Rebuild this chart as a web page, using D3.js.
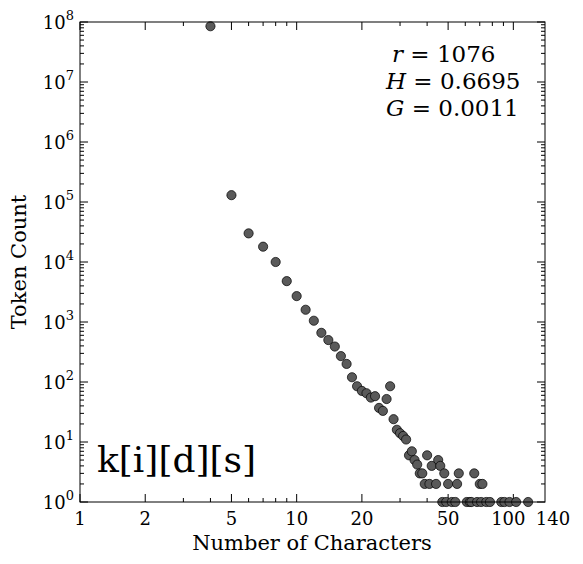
<!DOCTYPE html><html><head><meta charset="utf-8"><script src="https://cdn.jsdelivr.net/npm/d3@7"></script>
<style>body{margin:0;background:#fff}text{font-family:"DejaVu Serif",serif}</style></head><body><svg id="c" width="583" height="564"></svg><script>
const lengths=[4,5,6,7,8,9,10,11,12,13,14,15,16,17,18,19,20,21,22,23,24,25,26,27,28,29,30,31,32,33,34,35,36,37,38,39,40,41,42,44,45,46,47,48,49,50,52,54,55,56,61,63,64,66,68,70,71,72,75,78,88,91,96,103,117];
const counts=[8.5e7,1.3e5,3e4,1.8e4,1e4,4.8e3,2.7e3,1.6e3,1.05e3,660,500,390,270,200,120,85,71,65,55,58,37,33,52,85,24,16,14,12.6,11,6,7,5,4.2,3,3,2,6,2,4,2,5,4,1,3,1,2,1,1,2,3,1,1,1,3,1,2,1,2,1,1,1,1,1,1,1];
const xTicks=[1,2,5,10,20,50,100,140];
const yExps=[0,1,2,3,4,5,6,7,8];
const svg=d3.select("#c");
const L=80,R=545,T=22,B=502;
const x=d3.scaleLog().domain([1,140]).range([L,R]);
const y=d3.scaleLog().domain([1,1e8]).range([B,T]);
const g=svg.append("g");
const xm=[];for(let d=1;d<=100;d*=10)for(let k=1;k<10;k++){const v=k*d;if(v<=140)xm.push(v);}
xm.forEach(v=>{const p=x(v);const major=xTicks.includes(v);const len=major?8:4;
g.append("line").attr("x1",p).attr("x2",p).attr("y1",B).attr("y2",B-len).attr("stroke","#000");
g.append("line").attr("x1",p).attr("x2",p).attr("y1",T).attr("y2",T+len).attr("stroke","#000");});
for(let e=0;e<=8;e++)for(let k=1;k<10;k++){const v=k*Math.pow(10,e);if(v>1e8)break;const p=y(v);const len=k==1?8:4;
g.append("line").attr("x1",L).attr("x2",L+len).attr("y1",p).attr("y2",p).attr("stroke","#000");
g.append("line").attr("x1",R).attr("x2",R-len).attr("y1",p).attr("y2",p).attr("stroke","#000");}
xTicks.forEach(v=>g.append("text").attr("x",x(v)+(v==100?-5:v==140?8:0)).attr("y",B+23).attr("text-anchor","middle").attr("font-size",18).text(v));
yExps.forEach(e=>{const t=g.append("text").attr("x",L-6).attr("y",y(Math.pow(10,e))+7).attr("text-anchor","end").attr("font-size",18);
t.append("tspan").text("10");t.append("tspan").attr("dy",-9).attr("font-size",13).text(e);});
svg.append("g").selectAll("circle").data(lengths.map((l,i)=>[l,counts[i]])).join("circle")
.attr("cx",d=>x(d[0])).attr("cy",d=>y(d[1])).attr("r",4.6).attr("fill","#5a5a5a").attr("stroke","#000").attr("stroke-width",0.7);
svg.append("rect").attr("x",L).attr("y",T).attr("width",R-L).attr("height",B-T).attr("fill","none").attr("stroke","#000").attr("stroke-width",1);
svg.append("text").attr("x",312).attr("y",550).attr("text-anchor","middle").attr("font-size",21).text("Number of Characters");
svg.append("text").attr("transform","translate(26,262) rotate(-90)").attr("text-anchor","middle").attr("font-size",21).text("Token Count");
const ann=[["r"," = 1076",392,62],["H"," = 0.6695",386,89],["G"," = 0.0011",386,116]];
ann.forEach(a=>{const t=svg.append("text").attr("x",a[2]).attr("y",a[3]).attr("font-size",23);
t.append("tspan").attr("font-style","italic").text(a[0]);t.append("tspan").text(a[1]);});
svg.append("text").attr("x",97).attr("y",472).attr("font-size",36).text("k[i][d][s]");
</script></body></html>
